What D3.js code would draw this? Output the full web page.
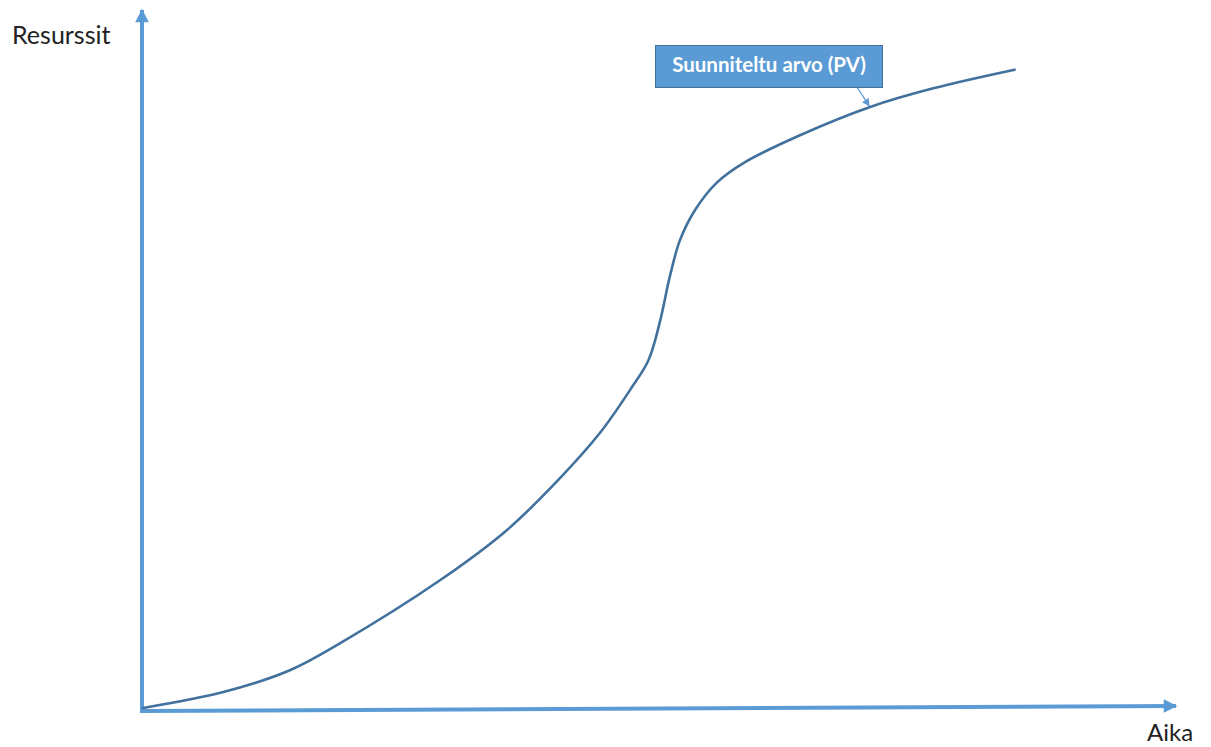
<!DOCTYPE html>
<html>
<head>
<meta charset="utf-8">
<script src="https://cdn.jsdelivr.net/npm/d3@7"></script>
<style>
  html, body { margin: 0; padding: 0; background: #ffffff; }
  svg { display: block; }
</style>
</head>
<body>
<svg id="chart" width="1211" height="747"></svg>
<script>
// Planned value (PV) curve: time vs. cumulative resources (0–100 scale)
const time = [0, 7.9, 14.5, 19.4, 29.2, 35.8, 41.0, 44.9, 47.9, 49.7,
  50.8, 51.8, 52.8, 54.3, 56.4, 59.2, 64.6, 71.5, 77.7, 85.7];
const resources = [0.3, 2.6, 5.8, 9.7, 18.8, 26.1, 33.6, 40.1, 46.4, 50.7,
  56.1, 62.8, 68.1, 72.5, 76.4, 79.4, 83.3, 87.4, 90.1, 92.8];
const yAxisTitle = "Resurssit";
const xAxisTitle = "Aika";
const seriesLabel = "Suunniteltu arvo (PV)";
const labelPointIndex = 17;

const axisColor = "#5B9BD5";
const lineColor = "#41719C";

const svg = d3.select("#chart");

const x = d3.scaleLinear().domain([0, 100]).range([143, 1160]);
const y = d3.scaleLinear().domain([0, 100]).range([710, 20]);

const defs = svg.append("defs");
defs.append("marker")
  .attr("id", "axisHead")
  .attr("viewBox", "0 0 10 10")
  .attr("refX", 9).attr("refY", 5)
  .attr("markerWidth", 3.6).attr("markerHeight", 3.4)
  .attr("markerUnits", "strokeWidth")
  .attr("orient", "auto")
  .append("path").attr("d", "M0,0 L10,5 L0,10 Z").attr("fill", axisColor);
defs.append("marker")
  .attr("id", "calloutHead")
  .attr("viewBox", "0 0 10 10")
  .attr("refX", 9).attr("refY", 5)
  .attr("markerWidth", 7).attr("markerHeight", 6)
  .attr("markerUnits", "strokeWidth")
  .attr("orient", "auto")
  .append("path").attr("d", "M0,0 L10,5 L0,10 Z").attr("fill", axisColor);

// Axes drawn as arrows from the origin
const ox = x(0) - 1, oy = y(0) + 1;
svg.append("line")
  .attr("x1", ox).attr("y1", oy + 2)
  .attr("x2", ox).attr("y2", 10)
  .attr("stroke", axisColor).attr("stroke-width", 4)
  .attr("marker-end", "url(#axisHead)");
svg.append("line")
  .attr("x1", ox - 2).attr("y1", oy)
  .attr("x2", 1176).attr("y2", oy - 5)
  .attr("stroke", axisColor).attr("stroke-width", 4)
  .attr("marker-end", "url(#axisHead)");

// Planned value curve
const pts = time.map((t, i) => [t, resources[i]]);
const line = d3.line()
  .x(d => x(d[0]))
  .y(d => y(d[1]))
  .curve(d3.curveCatmullRom.alpha(0.5));
svg.append("path")
  .datum(pts)
  .attr("d", line)
  .attr("fill", "none")
  .attr("stroke", lineColor)
  .attr("stroke-width", 2.6)
  .attr("stroke-linecap", "round");

// Axis titles
svg.append("text")
  .attr("x", 12).attr("y", 44)
  .attr("font-family", "Lato, 'Open Sans', sans-serif")
  .attr("font-size", 25)
  .attr("fill", "#222")
  .text(yAxisTitle);
svg.append("text")
  .attr("x", 1147).attr("y", 741)
  .attr("font-family", "Lato, 'Open Sans', sans-serif")
  .attr("font-size", 24)
  .attr("fill", "#222")
  .text(xAxisTitle);

// Callout box with connector to the curve
const box = { x: 655, y: 45, w: 227, h: 42 };
const target = pts[labelPointIndex];
svg.append("line")
  .attr("x1", 857).attr("y1", box.y + box.h)
  .attr("x2", x(target[0]) - 1).attr("y2", y(target[1]) - 1)
  .attr("stroke", axisColor).attr("stroke-width", 1.3)
  .attr("marker-end", "url(#calloutHead)");
svg.append("rect")
  .attr("x", box.x + 0.5).attr("y", box.y + 0.5)
  .attr("width", box.w).attr("height", box.h)
  .attr("fill", axisColor)
  .attr("stroke", lineColor).attr("stroke-width", 1);
svg.append("text")
  .attr("x", box.x + box.w / 2 + 0.5).attr("y", box.y + box.h / 2 + 1)
  .attr("text-anchor", "middle")
  .attr("dominant-baseline", "middle")
  .attr("font-family", "Lato, 'Open Sans', sans-serif")
  .attr("font-weight", "bold")
  .attr("font-size", 20.5)
  .attr("fill", "#ffffff")
  .text(seriesLabel);
</script>
</body>
</html>
